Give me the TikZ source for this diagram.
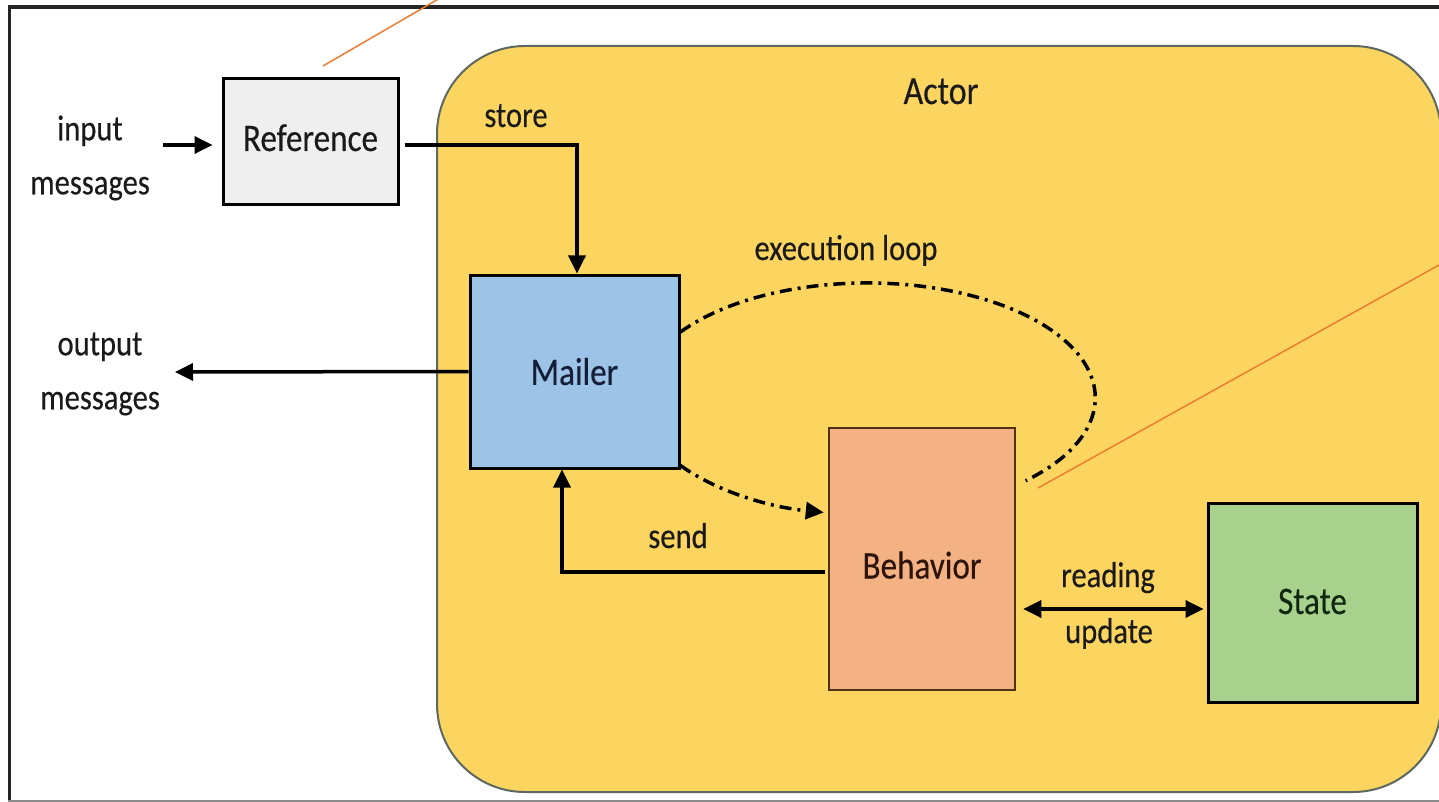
\documentclass[tikz,border=0pt]{standalone}
\usepackage{fontspec}
\setmainfont{Carlito}[FakeStretch=0.85,FakeBold=0.3]
\usetikzlibrary{arrows.meta,calc}
\definecolor{actorfill}{RGB}{252,213,96}
\definecolor{actorline}{RGB}{92,104,96}
\definecolor{reffill}{RGB}{239,239,239}
\definecolor{mailfill}{RGB}{157,195,230}
\definecolor{behfill}{RGB}{244,177,131}
\definecolor{behline}{RGB}{80,48,20}
\definecolor{statefill}{RGB}{169,209,142}
\definecolor{accent}{RGB}{237,125,49}
\definecolor{ink}{RGB}{26,26,26}
\begin{document}
\begin{tikzpicture}[x=1pt,y=-1pt,
  lab/.style={font=\fontsize{36}{54}\selectfont, text=ink, inner sep=0pt},
  boxlab/.style={font=\fontsize{39}{44}\selectfont},
  blk/.style={draw=black, line width=3pt, boxlab, text=ink},
  conn/.style={line width=3.5pt, -{Triangle[length=18pt,width=17pt]}},
  dconn/.style={line width=3.5pt, {Triangle[length=18pt,width=17pt]}-{Triangle[length=18pt,width=17pt]}},
  loopline/.style={line width=3.5pt, dash pattern=on 12pt off 6pt on 3pt off 6pt},
  accentline/.style={draw=accent, line width=1.5pt}]
\useasboundingbox (0,0) rectangle (1439,802);
\fill[white] (0,0) rectangle (1439,802);
% outer frame
\draw[line width=3.5pt, black!85] (9,7) -- (1450,7);
\draw[line width=3pt, black!85] (9,5.5) -- (9,801);
\draw[line width=2pt, black!45] (8,800.5) -- (1450,800.5);
% actor container
\draw[fill=actorfill, draw=actorline, line width=2pt, rounded corners=88pt]
  (437,46) rectangle (1441,792);
\node[font=\fontsize{40}{44}\selectfont, text=ink, anchor=base] (actor) at (941,104) {Actor};
% blocks
\node[blk, fill=reffill, minimum width=175pt, minimum height=126pt, text height=27pt, text depth=9pt] (ref) at (310.5,142) {Reference};
\node[blk, fill=mailfill, minimum width=209pt, minimum height=193pt, text={rgb,255:red,20;green,30;blue,55}] (mailer) at (574.5,371.5) {Mailer};
\node[blk, draw=behline, line width=2.5pt, fill=behfill, minimum width=186pt, minimum height=262pt, text={rgb,255:red,45;green,20;blue,10}, text height=39pt, text depth=0pt] (behavior) at (922,559) {Behavior};
\node[blk, fill=statefill, minimum width=209pt, minimum height=199pt, text={rgb,255:red,15;green,40;blue,15}, text height=27pt, text depth=4pt] (state) at (1312.5,602.5) {State};
% labels
\node[lab, align=center] (inp) at (90,158) {input\\messages};
\node[lab, align=center] (outp) at (100,374) {output\\messages};
\node[lab, anchor=base] (store) at (516,127) {store};
\node[lab, anchor=base] (exec) at (846,260) {execution loop};
\node[lab, anchor=base] (send) at (678,548) {send};
\node[lab, anchor=base] (reading) at (1108,587) {reading};
\node[lab, anchor=base] (update) at (1109,643) {update};
\coordinate (instart) at (163,145);
\coordinate (outtip) at (175,372);
% connectors
\draw[conn, shorten >=9pt] (instart) -- (instart -| ref.west);
\draw[conn, shorten <=5pt] ([yshift=-3pt]ref.east) -| ([xshift=2.5pt]mailer.north);
\draw[conn] (mailer.west) -- (outtip);
\draw[conn, shorten <=3pt] ([yshift=-13pt]behavior.west) -| ([xshift=-12.5pt]mailer.south);
\draw[dconn, shorten <=7pt, shorten >=3pt] ([yshift=-6.5pt]state.west -| behavior.east) -- ([yshift=-6.5pt]state.west);
% execution loop
\draw[loopline] ([yshift=39.5pt]mailer.east) arc[start angle=-145, end angle=46, x radius=228, y radius=115];
\draw[loopline, -{Triangle[length=18pt,width=17pt]}] ([yshift=4pt]mailer.south east) arc[start angle=145, end angle=101, x radius=228, y radius=115];
% accent lines
\draw[accentline] (323,66) -- (447,-6);
\draw[accentline] (1038,488) -- (1448,260);
\end{tikzpicture}
\end{document}
